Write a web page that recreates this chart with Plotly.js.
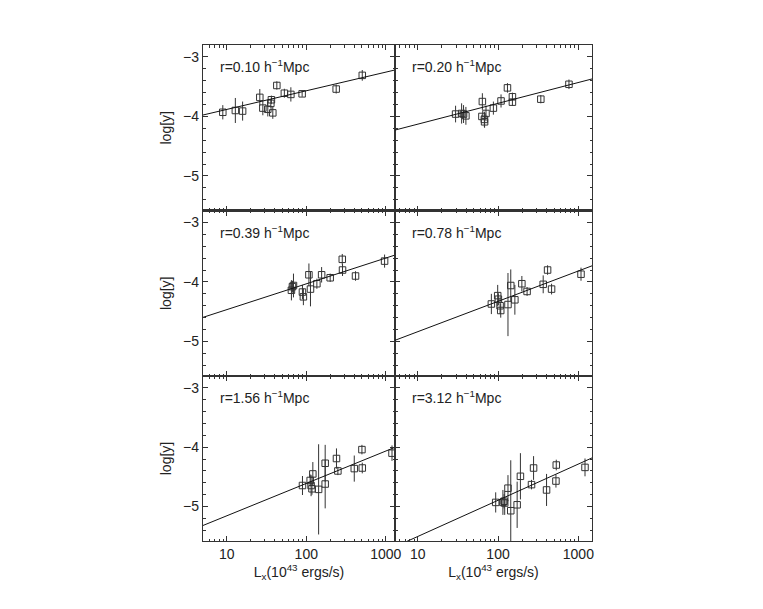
<!DOCTYPE html>
<html>
<head>
<meta charset="utf-8">
<script src="https://cdn.plot.ly/plotly-3.0.1.min.js"></script>
<style>html,body{margin:0;padding:0;background:#fff;}#plot{width:763px;height:609px;}</style>
</head>
<body>
<div id="plot"></div>
<script>
// Panel labels
var panelLabels = ["r=0.10 h<sup>\u22121</sup>Mpc", "r=0.20 h<sup>\u22121</sup>Mpc",
                   "r=0.39 h<sup>\u22121</sup>Mpc", "r=0.78 h<sup>\u22121</sup>Mpc",
                   "r=1.56 h<sup>\u22121</sup>Mpc", "r=3.12 h<sup>\u22121</sup>Mpc"];
var xTickVals = [10, 100, 1000];
var xTickText = ["10", "100", "1000"];
var yTickVals = [-3, -4, -5];
var yTickText = ["\u22123", "\u22124", "\u22125"];

// r = 0.10
var lx1 = [8.9, 12.8, 15.8, 26, 28.4, 32.8, 35.8, 36.4, 37.9, 42.6, 53, 64, 88.7, 238, 507];
var ly1 = [-3.93, -3.90, -3.91, -3.68, -3.86, -3.88, -3.78, -3.72, -3.94, -3.48, -3.61, -3.63, -3.62, -3.54, -3.31];
var er1 = [0.12, 0.21, 0.16, 0.14, 0.12, 0.12, 0.07, 0.07, 0.10, 0.07, 0.075, 0.12, 0.05, 0.075, 0.09];
// r = 0.20
var lx2 = [29.6, 35.2, 37.2, 39.8, 63.8, 63, 67.6, 68, 70.8, 87.5, 109, 131, 151, 151, 341, 764];
var ly2 = [-3.96, -3.95, -3.96, -3.99, -3.75, -4.00, -4.05, -4.09, -3.95, -3.86, -3.74, -3.52, -3.67, -3.76, -3.71, -3.46];
var er2 = [0.14, 0.17, 0.15, 0.15, 0.14, 0.03, 0.13, 0.10, 0.13, 0.11, 0.11, 0.08, 0.07, 0.06, 0.07, 0.08];
// r = 0.39
var lx3 = [65, 69, 67, 89.5, 92, 108, 113, 136, 156, 200, 284, 286, 417, 968];
var ly3 = [-4.14, -4.06, -4.08, -4.17, -4.25, -3.88, -4.12, -4.03, -3.88, -3.93, -3.62, -3.80, -3.90, -3.65];
var er3 = [0.17, 0.20, 0.10, 0.12, 0.14, 0.19, 0.29, 0.085, 0.13, 0.07, 0.09, 0.10, 0.08, 0.11];
// r = 0.78
var lx4 = [82.6, 99, 101, 106, 108, 133, 144, 162, 198, 230, 365, 414, 464, 1079];
var ly4 = [-4.37, -4.23, -4.29, -4.40, -4.48, -4.38, -4.06, -4.30, -4.03, -4.16, -4.04, -3.80, -4.12, -3.87];
var er4 = [0.17, 0.18, 0.10, 0.14, 0.12, 0.53, 0.27, 0.25, 0.13, 0.075, 0.15, 0.08, 0.09, 0.11];
// r = 1.56
var lx5 = [89.6, 112, 115, 121, 118, 143, 173, 173, 240, 250, 402, 502, 507, 1200];
var ly5 = [-4.645, -4.56, -4.645, -4.45, -4.70, -4.71, -4.27, -4.62, -4.19, -4.40, -4.36, -4.04, -4.35, -4.10];
var er5 = [0.16, 0.10, 0.18, 0.20, 0.10, 0.76, 0.31, 0.41, 0.17, 0.07, 0.22, 0.08, 0.09, 0.13];
// r = 3.12
var lx6 = [93.5, 115, 121, 119, 133, 144, 173, 190, 261, 277, 402, 531, 526, 1210];
var ly6 = [-4.93, -4.93, -4.94, -4.91, -4.69, -5.07, -4.97, -4.49, -4.63, -4.35, -4.72, -4.30, -4.57, -4.34];
var er6 = [0.17, 0.21, 0.20, 0.12, 0.22, 0.85, 0.39, 0.39, 0.08, 0.20, 0.27, 0.09, 0.11, 0.15];

// Fitted lines: log y = fitA + fitB * log10(Lx)
var fitA = [-4.195, -4.48, -4.898, -5.346, -5.70, -6.114];
var fitB = [0.313, 0.35, 0.433, 0.51, 0.545, 0.61];

var lxAll = [lx1, lx2, lx3, lx4, lx5, lx6];
var lyAll = [ly1, ly2, ly3, ly4, ly5, ly6];
var erAll = [er1, er2, er3, er4, er5, er6];

var xRangeLeft = [0.70, 3.117];
var xRangeRight = [0.717, 3.17];
var yRange = [-5.58, -2.80];

// minor tick positions on the log axes: 2..9 in each decade
var decades = [1, 10, 100, 1000];
var xMinor = [];
decades.forEach(function (d) { for (var k = 2; k <= 9; k++) xMinor.push(k * d); });

var W = 763, H = 609;
var colPx = [[203, 395], [395, 592]];
var rowPx = [[45, 210.5], [210.5, 376], [376, 541]];

var fontFam = "Liberation Sans, Arial, Helvetica, sans-serif";
var ink = "#222";

var traces = [];
var layout = {
  width: W, height: H,
  margin: {l: 0, r: 0, t: 0, b: 0},
  paper_bgcolor: "#fff", plot_bgcolor: "#fff",
  showlegend: false,
  font: {family: fontFam, size: 13, color: ink},
  annotations: []
};

for (var i = 0; i < 6; i++) {
  var row = Math.floor(i / 2), col = i % 2;
  var n = i + 1;
  var xa = "x" + (n === 1 ? "" : n), ya = "y" + (n === 1 ? "" : n);
  var xr = col === 0 ? xRangeLeft : xRangeRight;

  traces.push({
    type: "scatter", mode: "markers", xaxis: xa, yaxis: ya,
    x: lxAll[i], y: lyAll[i],
    marker: {symbol: "square-open", size: 6.5, color: "#333", line: {width: 1, color: "#333"}},
    error_y: {type: "data", array: erAll[i], visible: true, thickness: 1, width: 0, color: "#333"},
    hoverinfo: "skip"
  });
  var lineX = [Math.pow(10, xr[0]), Math.pow(10, xr[1])];
  var lineY = [fitA[i] + fitB[i] * xr[0], fitA[i] + fitB[i] * xr[1]];
  traces.push({
    type: "scatter", mode: "lines", xaxis: xa, yaxis: ya,
    x: lineX, y: lineY,
    line: {color: "#111", width: 1},
    hoverinfo: "skip"
  });

  var xKey = "xaxis" + (n === 1 ? "" : n), yKey = "yaxis" + (n === 1 ? "" : n);
  layout[xKey] = {
    type: "log", range: xr, anchor: ya,
    domain: [colPx[col][0] / W, colPx[col][1] / W],
    tickmode: "array", tickvals: xTickVals, ticktext: xTickText,
    showticklabels: row === 2,
    ticks: "inside", ticklen: 5, tickwidth: 1, tickcolor: "#333",
    minor: {tickmode: "array", tickvals: xMinor, ticks: "inside", ticklen: 2.5, tickwidth: 1, tickcolor: "#333", showgrid: false},
    showline: true, mirror: "allticks", linecolor: "#333", linewidth: 1.2,
    showgrid: false, zeroline: false,
    tickfont: {family: fontFam, size: 14, color: ink}
  };
  layout[yKey] = {
    range: yRange, anchor: xa,
    domain: [1 - rowPx[row][1] / H, 1 - rowPx[row][0] / H],
    tickmode: "array", tickvals: yTickVals, ticktext: yTickText,
    showticklabels: col === 0,
    ticks: "inside", ticklen: 5, tickwidth: 1, tickcolor: "#333",
    minor: {ticks: "inside", ticklen: 2.5, dtick: 0.2, tick0: -3, tickwidth: 1, tickcolor: "#333", showgrid: false},
    showline: true, mirror: "allticks", linecolor: "#333", linewidth: 1.2,
    showgrid: false, zeroline: false,
    tickfont: {family: fontFam, size: 14, color: ink}
  };
  if (col === 0) {
    layout[yKey].title = {text: "log[y]", font: {family: fontFam, size: 14, color: ink}, standoff: 8};
  }
  if (row === 2) {
    layout[xKey].title = {text: "L<sub>x</sub>(10<sup>43</sup> ergs/s)", font: {family: fontFam, size: 14, color: ink}, standoff: 4};
  }

  layout.annotations.push({
    xref: "paper", yref: "paper",
    x: (colPx[col][0] + 15) / W, y: 1 - (rowPx[row][0] + 21) / H,
    xanchor: "left", yanchor: "middle",
    text: panelLabels[i], showarrow: false,
    font: {family: fontFam, size: 14, color: ink}
  });
}

Plotly.newPlot("plot", traces, layout, {staticPlot: true, displayModeBar: false});
</script>
</body>
</html>
